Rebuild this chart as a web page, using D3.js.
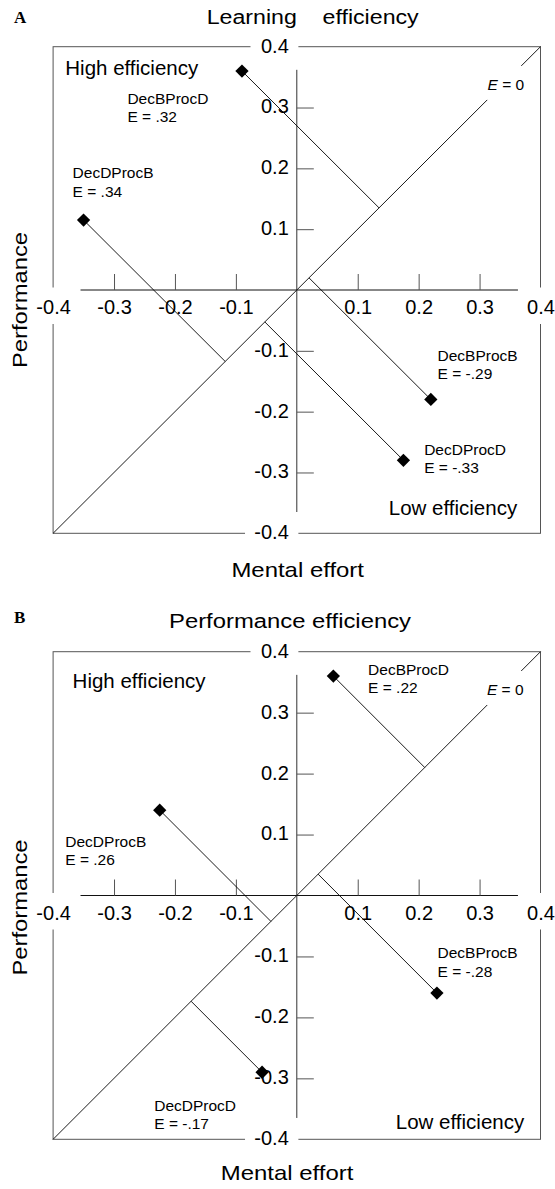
<!DOCTYPE html>
<html><head><meta charset="utf-8">
<script src="https://cdn.jsdelivr.net/npm/d3@7"></script>
<style>
body{margin:0;background:#fff}
svg{display:block}
text{font-family:"Liberation Sans",Arial,Helvetica,sans-serif;fill:#000}
</style>
</head><body>
<svg id="c" width="555" height="1189"></svg>
<script>
// ---------- data ----------
const categories = ["DecBProcD","DecDProcB","DecBProcB","DecDProcD"];
const learnEffort = [-0.09, -0.35, 0.22, 0.175];
const learnPerf   = [0.36, 0.115, -0.18, -0.28];
const learnE      = [".32", ".34", "-.29", "-.33"];
const perfEffort  = [0.06, -0.225, 0.23, -0.057];
const perfPerf    = [0.36, 0.14, -0.16, -0.29];
const perfE       = [".22", ".26", "-.28", "-.17"];
const tickValues  = [-0.4,-0.3,-0.2,-0.1,0.1,0.2,0.3,0.4];
const tickLabels  = ["-0.4","-0.3","-0.2","-0.1","0.1","0.2","0.3","0.4"];
const panelLetters = ["A","B"];
const panelTitles  = ["Learning    efficiency","Performance efficiency"];
const xTitle = "Mental effort";
const yTitle = "Performance";
const quadrantLabels = ["High efficiency","Low efficiency"];
const zeroLineLabel = "= 0";

// ---------- layout ----------
const layout = [
  {top:46.7, bottom:533.3, letterY:23.3, titleX:206.7, titleLen:212, titleY:24.3,
   xLabX:231.4, xLabY:576.7, yLabCY:300,
   labelPos:[[-0.278,0.306],[-0.368,0.184],[0.231,-0.116],[0.209,-0.271]],
   highPos:[-0.380,0.353], lowPos:[0.151,-0.370], zeroPos:[0.313,0.329]},
  {top:651.7, bottom:1139.3, letterY:623.3, titleX:169, titleLen:242, titleY:628.3,
   xLabX:220.8, xLabY:1180, yLabCY:907.5,
   labelPos:[[0.117,0.362],[-0.380,0.080],[0.231,-0.103],[-0.234,-0.353]],
   highPos:[-0.368,0.340], lowPos:[0.1625,-0.383], zeroPos:[0.312,0.329]}
];
const series = [
  {effort:learnEffort, perf:learnPerf, E:learnE},
  {effort:perfEffort, perf:perfPerf, E:perfE}
];
const X0 = 53.1, X1 = 540.5;
const axisExtentY = [-0.365, 0.362];
const axisExtentX = [-0.355, 0.363];

const svg = d3.select("#c");

layout.forEach((L, pi) => {
  const S = series[pi];
  const x = d3.scaleLinear().domain([-0.4,0.4]).range([X0,X1]);
  const y = d3.scaleLinear().domain([-0.4,0.4]).range([L.bottom,L.top]);
  const g = svg.append("g");

  // frame
  g.append("rect").attr("x",x(-0.4)).attr("y",y(0.4))
    .attr("width",x(0.4)-x(-0.4)).attr("height",y(-0.4)-y(0.4))
    .attr("fill","none").attr("stroke","#555").attr("stroke-width",1);

  // E = 0 diagonal
  g.append("line").attr("x1",x(-0.4)).attr("y1",y(-0.4)).attr("x2",x(0.4)).attr("y2",y(0.4))
    .attr("stroke","#000").attr("stroke-width",0.9);

  // knockouts behind labels
  const ko = (a,b,c,d)=>g.append("rect").attr("x",a).attr("y",b).attr("width",c-a).attr("height",d-b).attr("fill","#fff");
  ko(x(-0.076), y(0.4)-3, x(0.0026), y(0.4)+3);
  ko(x(-0.085), y(-0.4)-3, x(0.0026), y(-0.4)+3);
  ko(x(-0.4)-3, y(0)-2.5, x(-0.4)+3, y(0)+34);
  ko(x(0.4)-3, y(0)-2.5, x(0.4)+3, y(0)+34);
  const zx = x(L.zeroPos[0]), zy = y(L.zeroPos[1]);
  ko(zx-3, zy-24, zx+39, zy+10);

  // y axis
  g.append("line").attr("x1",x(0)).attr("x2",x(0)).attr("y1",y(axisExtentY[1])).attr("y2",y(axisExtentY[0]))
    .attr("stroke","#333").attr("stroke-width",1);
  const ya = g.append("g").attr("transform",`translate(${x(0)},0)`)
    .call(d3.axisLeft(y).tickValues(tickValues).tickFormat((d,i)=>tickLabels[i])
      .tickSizeInner(-17).tickSizeOuter(0).tickPadding(8));
  ya.select(".domain").remove();
  ya.attr("font-size",20);
  ya.selectAll(".tick line").attr("stroke","#555");
  ya.selectAll(".tick").filter(d=>Math.abs(d)>0.39).select("line").remove();
  ya.selectAll(".tick text").attr("dy","0.27em");

  // x axis
  g.append("line").attr("y1",y(0)).attr("y2",y(0)).attr("x1",x(axisExtentX[0])).attr("x2",x(axisExtentX[1]))
    .attr("stroke","#111").attr("stroke-width",1);
  const xa = g.append("g").attr("transform",`translate(0,${y(0)})`)
    .call(d3.axisBottom(x).tickValues(tickValues).tickFormat((d,i)=>tickLabels[i])
      .tickSizeInner(-16).tickSizeOuter(0).tickPadding(10));
  xa.select(".domain").remove();
  xa.attr("font-size",20);
  xa.selectAll(".tick line").attr("stroke","#555");
  xa.selectAll(".tick").filter(d=>Math.abs(d)>0.39).select("line").remove();

  // perpendicular lines to E = 0 and markers
  const pts = categories.map((c,i)=>({c, e:S.effort[i], p:S.perf[i], E:S.E[i], lp:L.labelPos[i]}));
  g.selectAll("line.perp").data(pts).enter().append("line").attr("class","perp")
    .attr("x1",d=>x(d.e)).attr("y1",d=>y(d.p))
    .attr("x2",d=>x((d.e+d.p)/2)).attr("y2",d=>y((d.e+d.p)/2))
    .attr("stroke","#000").attr("stroke-width",0.9);
  const sym = d3.symbol().type(d3.symbolSquare).size(88);
  g.selectAll("path.pt").data(pts).enter().append("path").attr("class","pt")
    .attr("d",sym).attr("transform",d=>`translate(${x(d.e)},${y(d.p)}) rotate(45)`)
    .attr("fill","#000");

  // point labels
  const lab = g.selectAll("g.lab").data(pts).enter().append("g").attr("class","lab")
    .attr("transform",d=>`translate(${x(d.lp[0])},${y(d.lp[1])})`);
  lab.append("text").attr("font-size",15.5).text(d=>d.c);
  lab.append("text").attr("font-size",15.5).attr("y",18.5).text(d=>"E = "+d.E);

  // quadrant labels
  g.append("text").attr("x",x(L.highPos[0])).attr("y",y(L.highPos[1])).attr("font-size",20.5).text(quadrantLabels[0]);
  g.append("text").attr("x",x(L.lowPos[0])).attr("y",y(L.lowPos[1])).attr("font-size",20.5).text(quadrantLabels[1]);

  // E = 0 label
  const zt = g.append("text").attr("x",zx).attr("y",zy).attr("font-size",15.5);
  zt.append("tspan").attr("font-style","italic").text("E");
  zt.append("tspan").text(" "+zeroLineLabel);

  // panel letter and title
  g.append("text").attr("x",14).attr("y",L.letterY)
    .style("font-family",'"Liberation Serif","Times New Roman",serif').attr("font-weight","bold").attr("font-size",17)
    .text(panelLetters[pi]);
  g.append("text").attr("x",L.titleX).attr("y",L.titleY).attr("font-size",20)
    .attr("textLength",L.titleLen).attr("lengthAdjust","spacingAndGlyphs")
    .style("white-space","pre").text(panelTitles[pi]);

  // axis titles
  g.append("text").attr("x",L.xLabX).attr("y",L.xLabY).attr("font-size",21)
    .attr("textLength",132.6).attr("lengthAdjust","spacingAndGlyphs").text(xTitle);
  g.append("text").attr("transform",`translate(27,${L.yLabCY}) rotate(-90)`)
    .attr("text-anchor","middle").attr("font-size",21)
    .attr("textLength",136).attr("lengthAdjust","spacingAndGlyphs").text(yTitle);
});
</script>
</body></html>
